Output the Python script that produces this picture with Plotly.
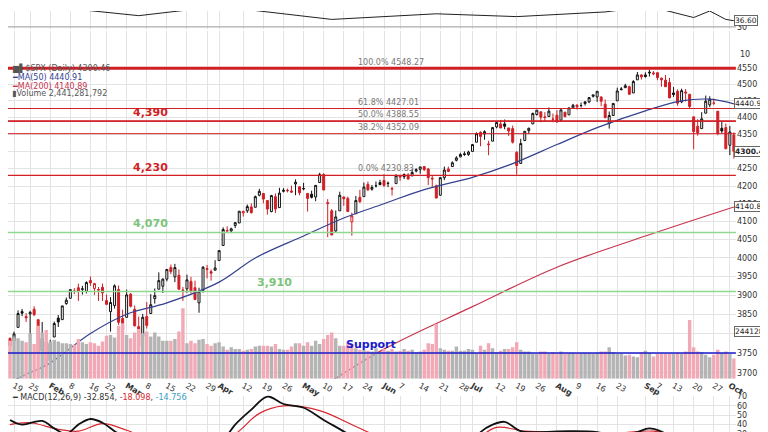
import math
import pandas as pd
import plotly.graph_objects as go

# daily SPX candles, Jan 15 - Oct 4 2021
days = {
    "2021-01": [15, 19, 20, 21, 22, 25, 26, 27, 28, 29],
    "2021-02": [1, 2, 3, 4, 5, 8, 9, 10, 11, 12, 16, 17, 18, 19, 22, 23, 24, 25, 26],
    "2021-03": [1, 2, 3, 4, 5, 8, 9, 10, 11, 12, 15, 16, 17, 18, 19, 22, 23, 24, 25, 26, 29, 30, 31],
    "2021-04": [1, 5, 6, 7, 8, 9, 12, 13, 14, 15, 16, 19, 20, 21, 22, 23, 26, 27, 28, 29, 30],
    "2021-05": [3, 4, 5, 6, 7, 10, 11, 12, 13, 14, 17, 18, 19, 20, 21, 24, 25, 26, 27, 28],
    "2021-06": [1, 2, 3, 4, 7, 8, 9, 10, 11, 14, 15, 16, 17, 18, 21, 22, 23, 24, 25, 28, 29, 30],
    "2021-07": [1, 2, 6, 7, 8, 9, 12, 13, 14, 15, 16, 19, 20, 21, 22, 23, 26, 27, 28, 29, 30],
    "2021-08": [2, 3, 4, 5, 6, 9, 10, 11, 12, 13, 16, 17, 18, 19, 20, 23, 24, 25, 26, 27, 30, 31],
    "2021-09": [1, 2, 3, 7, 8, 9, 10, 13, 14, 15, 16, 17, 20, 21, 22, 23, 24, 27, 28, 29, 30],
    "2021-10": [1, 4],
}
closes = [3768, 3799, 3852, 3853, 3841, 3855, 3849, 3751, 3787, 3714,
          3774, 3826, 3830, 3872, 3887, 3915, 3911, 3910, 3916, 3934, 3933, 3931, 3914, 3906, 3876, 3881, 3925, 3829, 3811,
          3901, 3871, 3820, 3768, 3842, 3821, 3875, 3899, 3939, 3943, 3969, 3963, 3974, 3916, 3913, 3941, 3911, 3889, 3910, 3975, 3971, 3959, 3973,
          4020, 4078, 4074, 4080, 4097, 4129, 4128, 4142, 4125, 4170, 4185, 4163, 4135, 4173, 4135, 4180, 4188, 4187, 4183, 4211, 4181,
          4193, 4165, 4168, 4202, 4233, 4189, 4153, 4063, 4113, 4174, 4164, 4128, 4116, 4159, 4156, 4197, 4189, 4196, 4201, 4204,
          4202, 4208, 4193, 4230, 4226, 4227, 4220, 4239, 4247, 4255, 4247, 4224, 4222, 4166, 4224, 4246, 4242, 4267, 4281, 4291, 4291, 4298,
          4320, 4352, 4344, 4358, 4320, 4370, 4385, 4369, 4374, 4360, 4327, 4259, 4323, 4359, 4368, 4412, 4422, 4401, 4400, 4419, 4395,
          4387, 4423, 4403, 4429, 4437, 4432, 4436, 4447, 4460, 4468, 4479, 4449, 4400, 4406, 4442, 4480, 4486, 4496, 4470, 4509, 4529, 4523,
          4524, 4537, 4535, 4521, 4514, 4493, 4459, 4469, 4443, 4481, 4474, 4433, 4358, 4355, 4396, 4449, 4455, 4443, 4353, 4360, 4308,
          4357, 4300.46]
opens = [3788, 3781, 3816, 3857, 3844, 3851, 3863, 3836, 3755, 3778,
         3731, 3791, 3840, 3836, 3878, 3892, 3910, 3920, 3917, 3911, 3939, 3918, 3915, 3921, 3886, 3857, 3873, 3915, 3839,
         3842, 3903, 3863, 3818, 3793, 3844, 3852, 3891, 3916, 3924, 3943, 3974, 3949, 3953, 3914, 3917, 3937, 3920, 3880, 3913, 3969, 3963, 3967,
         3993, 4034, 4075, 4074, 4089, 4096, 4124, 4130, 4141, 4140, 4174, 4179, 4159, 4128, 4170, 4139, 4185, 4188, 4186, 4206, 4198,
         4192, 4179, 4177, 4169, 4210, 4233, 4150, 4130, 4074, 4130, 4169, 4165, 4099, 4122, 4168, 4170, 4205, 4191, 4201, 4210,
         4216, 4207, 4191, 4207, 4229, 4233, 4232, 4229, 4243, 4248, 4256, 4249, 4220, 4201, 4174, 4224, 4249, 4256, 4274, 4284, 4293, 4291,
         4300, 4327, 4356, 4351, 4322, 4330, 4372, 4381, 4381, 4369, 4367, 4297, 4265, 4332, 4361, 4381, 4409, 4417, 4402, 4403, 4395,
         4407, 4392, 4416, 4408, 4429, 4437, 4436, 4442, 4447, 4464, 4462, 4462, 4440, 4382, 4406, 4450, 4484, 4490, 4493, 4474, 4514, 4529,
         4529, 4535, 4532, 4536, 4519, 4513, 4506, 4474, 4479, 4447, 4477, 4470, 4402, 4374, 4367, 4413, 4438, 4443, 4419, 4368, 4370,
         4318, 4348]
highs = [3789, 3805, 3860, 3864, 3853, 3859, 3871, 3836, 3830, 3778,
         3784, 3831, 3848, 3872, 3894, 3916, 3919, 3931, 3925, 3937, 3950, 3933, 3922, 3931, 3902, 3895, 3929, 3926, 3862,
         3915, 3906, 3873, 3844, 3851, 3882, 3903, 3918, 3961, 3945, 3970, 3982, 3984, 3969, 3922, 3955, 3949, 3939, 3920, 3978, 3981, 3969, 3994,
         4021, 4084, 4087, 4083, 4098, 4129, 4131, 4148, 4151, 4173, 4192, 4180, 4160, 4175, 4179, 4195, 4194, 4193, 4201, 4219, 4199,
         4209, 4179, 4187, 4202, 4238, 4237, 4163, 4135, 4131, 4184, 4170, 4170, 4125, 4172, 4189, 4210, 4213, 4203, 4213, 4218,
         4234, 4213, 4198, 4234, 4232, 4236, 4237, 4249, 4251, 4255, 4257, 4252, 4232, 4204, 4226, 4256, 4256, 4271, 4286, 4296, 4300, 4302,
         4321, 4356, 4359, 4362, 4331, 4372, 4387, 4393, 4394, 4369, 4376, 4301, 4337, 4359, 4370, 4415, 4422, 4416, 4416, 4430, 4412,
         4422, 4424, 4416, 4429, 4441, 4440, 4445, 4449, 4461, 4468, 4480, 4463, 4454, 4418, 4444, 4490, 4492, 4502, 4496, 4513, 4538, 4531,
         4537, 4545, 4541, 4536, 4521, 4529, 4520, 4492, 4485, 4487, 4486, 4471, 4402, 4395, 4416, 4466, 4464, 4457, 4419, 4389, 4382,
         4375, 4356]
lows = [3749, 3780, 3816, 3845, 3830, 3797, 3845, 3732, 3755, 3694,
        3725, 3791, 3817, 3836, 3875, 3892, 3903, 3885, 3902, 3905, 3925, 3901, 3885, 3885, 3874, 3805, 3865, 3822, 3805,
        3842, 3868, 3818, 3723, 3723, 3813, 3852, 3878, 3916, 3906, 3937, 3956, 3935, 3915, 3885, 3906, 3905, 3887, 3854, 3907, 3945, 3939, 3966,
        3992, 4034, 4068, 4068, 4082, 4096, 4114, 4124, 4122, 4140, 4171, 4151, 4119, 4126, 4124, 4138, 4182, 4182, 4181, 4174, 4174,
        4188, 4128, 4165, 4157, 4209, 4188, 4057, 4062, 4069, 4130, 4144, 4128, 4061, 4122, 4152, 4170, 4187, 4187, 4196, 4203,
        4197, 4197, 4173, 4207, 4215, 4220, 4219, 4229, 4239, 4235, 4243, 4203, 4196, 4165, 4173, 4217, 4240, 4256, 4271, 4283, 4287, 4287,
        4301, 4327, 4315, 4334, 4289, 4330, 4368, 4368, 4365, 4345, 4323, 4233, 4265, 4330, 4351, 4381, 4406, 4386, 4387, 4403, 4386,
        4384, 4387, 4400, 4408, 4429, 4424, 4430, 4436, 4443, 4460, 4447, 4434, 4397, 4367, 4406, 4450, 4482, 4489, 4470, 4474, 4514, 4515,
        4521, 4524, 4528, 4513, 4493, 4493, 4458, 4462, 4435, 4443, 4448, 4427, 4306, 4346, 4367, 4413, 4431, 4437, 4347, 4354, 4306,
        4289, 4279]
volume_bn = [4.6, 5.0, 4.9, 4.6, 4.4, 5.5, 4.2, 6.4, 5.6, 5.9,
             4.5, 4.7, 4.5, 4.3, 4.3, 4.2, 4.1, 4.8, 4.4, 4.2, 4.4, 4.3, 4.0, 4.5, 5.2, 5.3, 5.0, 6.4, 6.7,
             5.3, 4.9, 5.6, 6.0, 5.5, 5.7, 5.1, 5.6, 5.1, 4.6, 4.6, 4.6, 4.8, 5.7, 8.5, 4.3, 4.6, 4.3, 4.7, 4.8, 4.2, 4.0, 4.3,
             4.4, 3.9, 3.5, 3.8, 3.6, 3.6, 3.4, 3.5, 3.6, 3.9, 4.0, 4.0, 4.0, 3.9, 4.2, 3.6, 3.5, 3.5, 3.9, 4.3, 4.3,
             4.0, 4.4, 4.0, 4.6, 4.2, 4.8, 5.3, 5.6, 4.9, 4.0, 4.0, 4.3, 4.2, 3.7, 3.5, 3.5, 3.4, 3.3, 3.7, 3.2,
             3.6, 3.4, 3.6, 3.3, 3.4, 3.6, 3.4, 3.5, 3.2, 3.3, 3.5, 4.3, 4.2, 6.6, 3.7, 3.5, 3.4, 3.4, 3.9, 3.4, 3.4, 3.6,
             3.5, 3.1, 4.0, 3.5, 4.3, 3.7, 3.2, 3.4, 3.6, 3.6, 3.8, 4.4, 3.5, 3.3, 3.3, 3.0, 3.0, 3.3, 3.3, 3.0, 3.2,
             3.0, 3.3, 3.0, 3.1, 3.1, 3.0, 3.1, 3.1, 3.1, 3.0, 3.1, 3.3, 3.3, 3.8, 3.2, 3.0, 3.0, 2.8, 2.9, 2.7, 2.6, 3.2,
             3.4, 3.1, 2.7, 3.0, 3.0, 3.0, 3.0, 3.0, 3.1, 3.0, 3.3, 7.1, 3.8, 3.3, 3.2, 2.9, 2.6, 2.9, 3.5, 3.1, 3.3,
             3.0, 2.44]

# moving averages / indicators, sampled at points
ma50_dates = ["2021-01-15", "2021-01-19", "2021-02-01", "2021-02-16", "2021-03-01", "2021-03-15", "2021-04-01",
              "2021-04-15", "2021-05-03", "2021-05-17", "2021-06-01", "2021-06-15", "2021-07-01", "2021-07-15",
              "2021-08-02", "2021-08-16", "2021-09-01", "2021-09-15", "2021-09-24", "2021-10-04"]
ma50_vals = [3665, 3680, 3725, 3800, 3850, 3880, 3935, 4000, 4060, 4110, 4150, 4190, 4225, 4260,
             4320, 4370, 4420, 4450, 4455, 4440.91]
ma200_dates = ["2021-05-07", "2021-06-01", "2021-07-01", "2021-08-02", "2021-09-01", "2021-10-04"]
ma200_vals = [3660, 3760, 3870, 3975, 4060, 4140.89]
macd_dates = ["2021-01-15", "2021-01-21", "2021-01-28", "2021-02-02", "2021-02-05", "2021-02-10", "2021-02-16",
              "2021-02-19", "2021-02-24", "2021-03-01", "2021-03-05", "2021-03-15", "2021-03-24", "2021-04-01",
              "2021-04-08", "2021-04-14", "2021-04-20", "2021-04-26", "2021-05-03", "2021-05-10", "2021-05-18",
              "2021-05-24", "2021-06-07", "2021-06-21", "2021-07-01", "2021-07-06", "2021-07-09", "2021-07-14",
              "2021-07-20", "2021-07-26", "2021-08-05", "2021-08-16", "2021-08-23", "2021-08-30", "2021-09-02",
              "2021-09-10", "2021-09-20", "2021-10-04"]
macd_vals = [45, 40, 44, 36, 30, 40, 46, 42, 33, 25, 10, 8, 5, 18,
             40, 56, 70, 62, 58, 45, 30, 18, 12, 8, 22, 32, 40, 43,
             33, 32, 33, 32, 27, 32, 36, 28, 5, -32.854]
signal_dates = ["2021-01-15", "2021-01-25", "2021-02-03", "2021-02-10", "2021-02-19", "2021-03-01", "2021-03-10",
                "2021-03-25", "2021-04-08", "2021-04-16", "2021-04-26", "2021-05-07", "2021-05-20", "2021-06-01",
                "2021-06-21", "2021-07-01", "2021-07-12", "2021-07-21", "2021-08-05", "2021-08-20", "2021-09-03",
                "2021-09-13", "2021-09-22", "2021-10-04"]
signal_vals = [40, 42, 35, 33, 41, 34, 22, 10, 30, 52, 60, 55, 38, 25, 12, 22, 37, 33, 32, 31, 33, 28, 15, -18.098]
rsi_dates = ["2021-01-15", "2021-02-05", "2021-03-04", "2021-04-01", "2021-05-12", "2021-06-18", "2021-07-19",
             "2021-08-18", "2021-09-02", "2021-09-20", "2021-09-24", "2021-09-30", "2021-10-04"]
rsi_vals = [48, 50, 42, 52, 38, 44, 41, 46, 52, 40, 47, 38, 36.6]

tick_marks = [("2021-01-19", "19"), ("2021-01-25", "25"), ("2021-02-01", "<b>Feb</b>"), ("2021-02-08", "8"),
              ("2021-02-16", "16"), ("2021-02-22", "22"), ("2021-03-01", "<b>Mar</b>"), ("2021-03-08", "8"),
              ("2021-03-15", "15"), ("2021-03-22", "22"), ("2021-03-29", "29"), ("2021-04-01", "<b>Apr</b>"),
              ("2021-04-12", "12"), ("2021-04-19", "19"), ("2021-04-26", "26"), ("2021-05-03", "<b>May</b>"),
              ("2021-05-10", "10"), ("2021-05-17", "17"), ("2021-05-24", "24"), ("2021-06-01", "<b>Jun</b>"),
              ("2021-06-07", "7"), ("2021-06-14", "14"), ("2021-06-21", "21"), ("2021-06-28", "28"),
              ("2021-07-01", "<b>Jul</b>"), ("2021-07-12", "12"), ("2021-07-19", "19"), ("2021-07-26", "26"),
              ("2021-08-02", "<b>Aug</b>"), ("2021-08-09", "9"), ("2021-08-16", "16"), ("2021-08-23", "23"),
              ("2021-09-01", "<b>Sep</b>"), ("2021-09-07", "7"), ("2021-09-13", "13"), ("2021-09-20", "20"),
              ("2021-09-27", "27"), ("2021-10-01", "<b>Oct</b>")]

dates = [f"{m}-{d:02d}" for m, ds in days.items() for d in ds]
pos = {d: i for i, d in enumerate(dates)}
df = pd.DataFrame({"o": opens, "h": highs, "l": lows, "c": closes, "v": volume_bn}, index=range(len(dates)))
up = df["c"] >= df["c"].shift(1).fillna(df["o"])

RED = "#d11f26"
fig = go.Figure()
vol_colors = ["#b4b4b4" if u else "#f2a9b6" for u in up]
fig.add_trace(go.Bar(x=df.index, y=df["v"] * 1e9, marker_color=vol_colors, marker_line_width=0,
                     yaxis="y4", xaxis="x", width=0.85))
for mask, col in [(up, "#111111"), (~up, RED)]:
    sub = df[mask]
    fig.add_trace(go.Candlestick(
        x=sub.index, open=sub["o"], high=sub["h"], low=sub["l"], close=sub["c"],
        increasing=dict(line=dict(color=col, width=1), fillcolor="white"),
        decreasing=dict(line=dict(color=col, width=1), fillcolor=col),
        whiskerwidth=0, xaxis="x", yaxis="y"))
fig.add_trace(go.Scatter(x=[pos[d] for d in ma50_dates], y=ma50_vals, mode="lines",
                         line=dict(color="#34418f", width=1.2), line_shape="spline"))
fig.add_trace(go.Scatter(x=[pos[d] for d in ma200_dates], y=ma200_vals, mode="lines",
                         line=dict(color="#c8344f", width=1.2), line_shape="spline"))
fig.add_trace(go.Scatter(x=[pos[d] for d in signal_dates], y=signal_vals, mode="lines", line_shape="spline",
                         line=dict(color="#d9262e", width=1.2), xaxis="x2", yaxis="y2"))
fig.add_trace(go.Scatter(x=[pos[d] for d in macd_dates], y=macd_vals, mode="lines", line_shape="spline",
                         line=dict(color="#111111", width=1.8), xaxis="x2", yaxis="y2"))
fig.add_trace(go.Scatter(x=[pos[d] for d in rsi_dates], y=rsi_vals, mode="lines",
                         line=dict(color="#222222", width=1), xaxis="x3", yaxis="y3"))

# horizontal levels
levels = [(4550, RED, 3), (4427.01, RED, 1), (4390, RED, 1.5), (4388.55, RED, 1), (4352.09, RED, 1),
          (4230.83, RED, 1.2), (4070, "#8fd68f", 1.5), (3910, "#8fd68f", 1.5), (3750, "#1a1acc", 1.5)]
for yv, col, w in levels:
    fig.add_shape(type="line", xref="x domain", yref="y", x0=0, x1=1, y0=yv, y1=yv, line=dict(color=col, width=w))
fig.add_shape(type="line", xref="x3 domain", yref="y3", x0=0, x1=1, y0=30, y1=30, line=dict(color="#999", width=1))

lg = math.log10
ann = []
fib = [(4548.27, "100.0% 4548.27"), (4427.01, "61.8% 4427.01"), (4388.55, "50.0% 4388.55"),
       (4352.09, "38.2% 4352.09"), (4230.83, "0.0% 4230.83")]
for yv, t in fib:
    ann.append(dict(x=86, y=lg(yv), text=t, xanchor="left", yanchor="bottom", showarrow=False,
                    font=dict(size=8, color="#777")))
for xv, yv, t, col in [(30, 4390, "4,390", RED), (30, 4230, "4,230", RED), (30, 4070, "4,070", "#7cc47c"),
                       (61, 3910, "3,910", "#7cc47c")]:
    ann.append(dict(x=xv, y=lg(yv), text="<b>" + t + "</b>", xanchor="left", yanchor="bottom", showarrow=False,
                    font=dict(size=11, color=col)))
ann.append(dict(x=83, y=lg(3750), text="<b>Support</b>", xanchor="left", yanchor="bottom", showarrow=False,
                font=dict(size=11, color="#1a1acc")))
legend_lines = [("<span style='color:#555'>▆▌</span>$SPX (Daily) 4300.46", "#555", 4550),
                ("━MA(50) 4440.91", "#34418f", 4520), ("━MA(200) 4140.89", "#c8344f", 4495),
                ("<span style='color:#555'>▮</span>Volume 2,441,281,792", "#555", 4472)]
for t, col, yv in legend_lines:
    ann.append(dict(xref="paper", x=0.003, y=lg(yv), text=t, xanchor="left", yanchor="middle", showarrow=False,
                    font=dict(size=8, color=col)))
ann.append(dict(xref="paper", yref="y2", x=0.003, y=69, text="━ MACD(12,26,9) -32.854, "
                "<span style='color:#d9262e'>-18.098</span>, <span style='color:#3aa0c0'>-14.756</span>",
                xanchor="left", yanchor="middle", showarrow=False, font=dict(size=8, color="#333")))
for yv, t, bold in [(4440.91, "4440.91", False), (4300.46, "4300.46", True), (4140.89, "4140.89", False),
                    (3805, "2441281", False)]:
    ann.append(dict(xref="paper", x=0.957, y=lg(yv), text="<b>" + t + "</b>" if bold else t, xanchor="left",
                    showarrow=False, font=dict(size=7.5, color="#222"), bordercolor="#666", borderwidth=1,
                    bgcolor="white", borderpad=0))
ann.append(dict(xref="paper", yref="y3", x=0.957, y=36.6, text="36.60", xanchor="left", showarrow=False,
                font=dict(size=7.5, color="#222"), bordercolor="#666", borderwidth=1, bgcolor="white", borderpad=0))
ann.append(dict(xref="paper", yref="paper", x=0.962, y=1 - 38 / 432, text="10", xanchor="left", showarrow=False,
                font=dict(size=8, color="#333")))

tv = [pos[d] for d, _ in tick_marks]
tt = [t for _, t in tick_marks]
xcommon = dict(range=[-0.5, len(dates) - 0.5], domain=[0, 0.959], tickvals=tv, showgrid=True,
               gridcolor="#e3e3e3", zeroline=False, showline=False, rangeslider=dict(visible=False), ticks="")
fig.update_layout(
    width=768, height=432, margin=dict(l=0, r=0, t=0, b=0), showlegend=False,
    paper_bgcolor="white", plot_bgcolor="white", font=dict(family="DejaVu Sans", size=8, color="#333"),
    xaxis=dict(**xcommon, ticktext=tt, showticklabels=True, anchor="y", tickfont=dict(size=8)),
    xaxis2=dict(**xcommon, showticklabels=False, anchor="y2", matches="x"),
    xaxis3=dict(**xcommon, showticklabels=False, anchor="y3", matches="x"),
    yaxis=dict(domain=[1 - 373 / 432, 1 - 20 / 432], type="log", range=[lg(3685), lg(4667)], side="right",
               tickvals=list(range(3700, 4600, 50)), gridcolor="#e3e3e3", zeroline=False, anchor="x",
               tickfont=dict(size=8)),
    yaxis4=dict(overlaying="y", range=[0, 42e9], visible=False),
    yaxis2=dict(domain=[0, 1 - 390 / 432], range=[26.8, 71], side="right", tickvals=[30, 40, 50, 60, 70],
                gridcolor="#e3e3e3", zeroline=False, anchor="x2", tickfont=dict(size=8)),
    yaxis3=dict(domain=[1 - 18 / 432, 1], range=[28, 47], side="right", tickvals=[30], showgrid=False,
                zeroline=False, anchor="x3", tickfont=dict(size=8)),
    annotations=ann,
)
fig.write_html("out.html")
